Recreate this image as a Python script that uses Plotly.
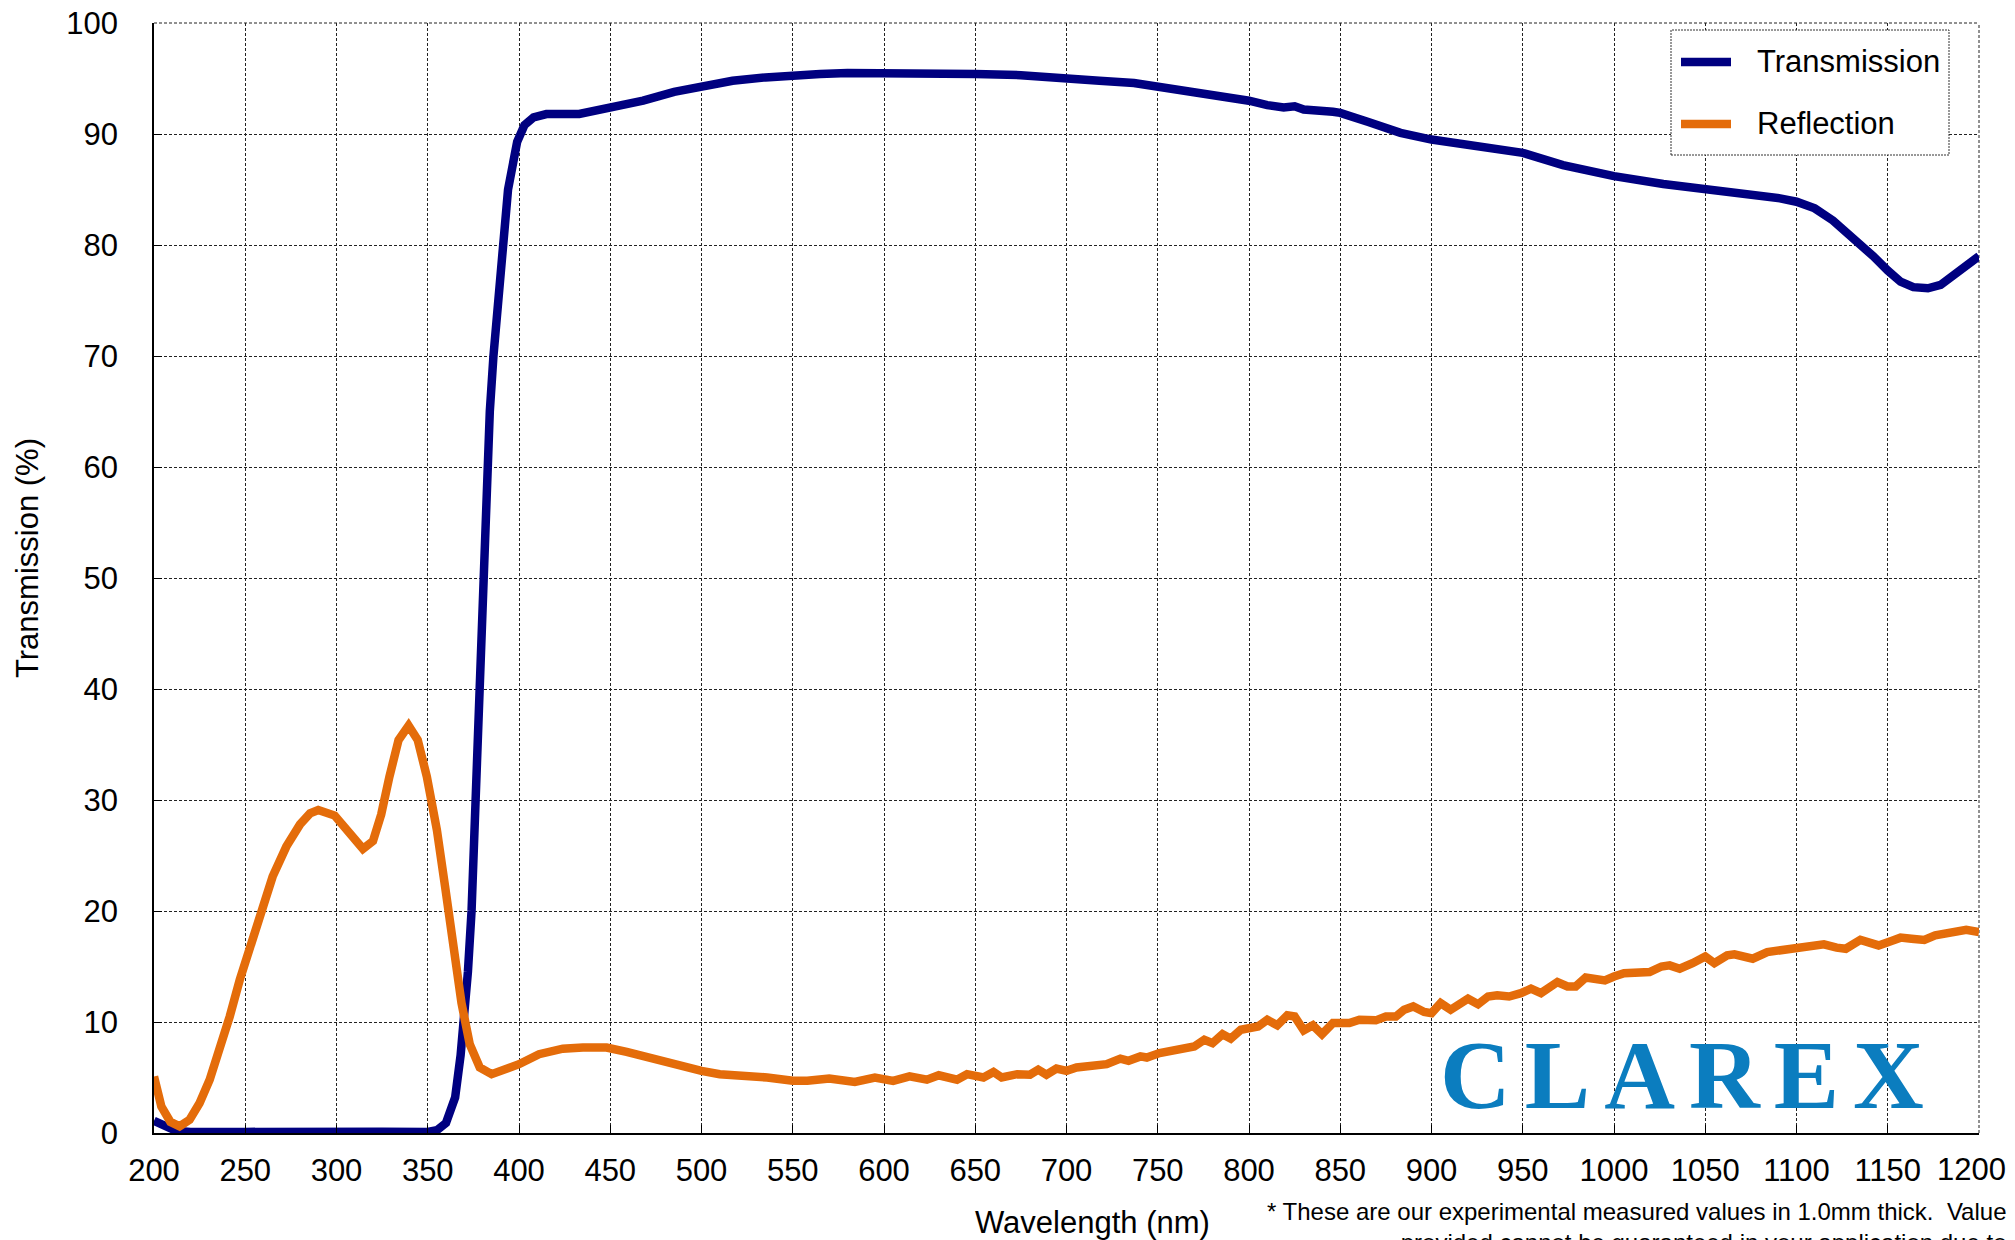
import plotly.graph_objects as go

# ---------------- data ----------------
wl_trans = [200, 205, 210, 215, 220, 250, 275, 300, 325, 350, 355, 360, 365, 368, 370, 372, 374,
            376, 378, 380, 382, 384, 386, 389, 394, 399, 403, 408, 415, 433, 450, 468, 485, 500,
            517, 535, 550, 565, 580, 600, 620, 650, 675, 700, 718, 737, 750, 770, 785, 800, 810,
            819, 825, 830, 846, 850, 865, 874, 883, 900, 916, 929, 950, 972, 1000, 1027, 1050,
            1073, 1091, 1100, 1110, 1120, 1131, 1142, 1150, 1157, 1164, 1172, 1179, 1186, 1194, 1200]
transmission = [1.1, 0.7, 0.35, 0.15, 0.1, 0.1, 0.15, 0.12, 0.12, 0.1, 0.25, 0.9, 3.2, 7.0, 10.5,
                14.5, 20.0, 29.0, 40.0, 50.0, 59.0, 65.0, 70.0, 76.0, 85.0, 89.3, 90.8, 91.5, 91.8,
                91.8, 92.3, 93.0, 93.8, 94.3, 94.8, 95.1, 95.3, 95.4, 95.5, 95.5, 95.5, 95.4, 95.3,
                95.1, 94.8, 94.6, 94.3, 93.8, 93.4, 93.0, 92.6, 92.4, 92.5, 92.2, 92.0, 91.9, 91.1,
                90.6, 90.1, 89.5, 89.1, 88.9, 88.3, 87.2, 86.2, 85.5, 85.1, 84.7, 84.2, 83.9, 83.3,
                82.2, 80.7, 79.0, 77.7, 76.7, 76.2, 76.1, 76.4, 77.3, 78.4, 79.0]

wl_refl = [200, 204, 209, 214, 219.5, 225, 230.5, 236, 241.5, 247, 252.5, 258, 265, 272.5, 280,
           285.5, 290, 299, 305.5, 310, 314.5, 320, 324.5, 329, 334, 339.5, 344.5, 349.5, 355,
           359.5, 364, 368.5, 373, 378.5, 385, 400, 411, 424, 435, 448, 459, 466, 472, 479, 490,
           500, 510, 521, 536, 550, 558, 570, 576, 584, 595, 605, 614, 623.5, 630, 640, 645.5,
           654.5, 660, 664.5, 673, 680, 684.5, 689, 694.5, 700, 705.5, 716.5, 722, 729.5, 734,
           740.5, 744, 751, 757, 764.5, 770, 775.5, 780, 785.5, 790, 795.5, 801, 805, 810, 815.5,
           821, 825, 830, 835, 840, 846, 855, 860.5, 869.5, 875, 880.5, 885, 890, 896, 900, 905,
           910.5, 920, 925.5, 931, 936, 942.5, 949, 954.5, 960, 969, 974.5, 979, 984.5, 990, 995,
           1000, 1005.5, 1019.5, 1026, 1030.5, 1036, 1043, 1050, 1055, 1062, 1066, 1076, 1084,
           1090, 1100, 1110, 1115, 1122, 1127, 1135, 1140, 1145, 1152, 1157, 1163, 1170, 1176,
           1185, 1193, 1200]
reflection = [5.1, 2.4, 1.0, 0.6, 1.2, 2.7, 4.8, 7.5, 10.5, 13.8, 16.8, 19.8, 23.1, 25.8, 27.8,
              28.8, 29.1, 28.6, 27.3, 26.2, 25.6, 26.3, 28.7, 32.1, 35.4, 36.7, 35.4, 32.1, 27.3,
              22.2, 16.5, 11.7, 8.0, 5.9, 5.3, 6.2, 7.1, 7.6, 7.7, 7.7, 7.3, 7.0, 6.8, 6.5, 5.9,
              5.6, 5.3, 5.2, 5.0, 4.7, 4.7, 4.9, 4.8, 4.6, 5.0, 4.7, 5.1, 4.8, 5.2, 4.8, 5.3,
              5.0, 5.5, 5.0, 5.3, 5.25, 5.7, 5.25, 5.8, 5.6, 5.9, 6.1, 6.2, 6.7, 6.5,
              6.9, 6.8, 7.2, 7.4, 7.75, 7.8, 8.4, 8.1, 8.9, 8.5, 9.3, 9.4, 9.6, 10.2, 9.7,
              10.6, 10.5, 9.25, 9.7, 8.9, 9.9, 9.9, 10.2, 10.15, 10.5, 10.5, 11.1, 11.4, 10.9, 10.8, 11.7,
              11.1, 12.1, 11.6, 12.3, 12.4, 12.3, 12.6, 13.0, 12.6, 13.6, 13.2, 13.2, 14.0, 13.8, 13.75,
              14.1, 14.4, 14.5, 15.0, 15.1, 14.8, 15.3, 15.9, 15.3, 16.0, 16.1, 15.7, 16.3,
              16.4, 16.6, 16.8, 17.0, 16.7, 16.6, 17.4, 17.1, 16.9, 17.3, 17.6, 17.5, 17.4, 17.8,
              18.0, 18.3, 18.1]

x_ticks = list(range(200, 1201, 50))
y_ticks = list(range(0, 101, 10))
x_ticklabels = [str(v) for v in x_ticks]
y_ticklabels = [str(v) for v in y_ticks]

series_names = ["Transmission", "Reflection"]
x_title = "Wavelength (nm)"
y_title = "Transmission (%)"
footnote = ("* These are our experimental measured values in 1.0mm thick.  Value<br>"
            "provided cannot be guaranteed in your application due to")
logo_text = "CLAREX"

# ---------------- styling / geometry ----------------
NAVY = "#000080"
ORANGE = "#E46C0A"
LOGO_BLUE = "#0B7DBF"
FONT = "Liberation Sans, Arial, sans-serif"

OFF = 8                       # default page margin of the html body
W, H = 2015 - OFF, 1240 - OFF
ML, MR, MT, MB = 154 - OFF, 36, 23 - OFF, 107
PW, PH = W - ML - MR, H - MT - MB


def px(x):
    """screen pixel x -> paper coordinate"""
    return (x - OFF - ML) / PW


def py(y):
    """screen pixel y -> paper coordinate"""
    return (MT + PH - (y - OFF)) / PH


# the last x label sits slightly left of its tick in the reference: drawn as an annotation
x_ticktext = x_ticklabels[:-1] + [""]

fig = go.Figure()
fig.add_trace(go.Scatter(x=wl_trans, y=transmission, mode="lines", name=series_names[0],
                         line=dict(color=NAVY, width=8.5), showlegend=False))
fig.add_trace(go.Scatter(x=wl_refl, y=reflection, mode="lines", name=series_names[1],
                         line=dict(color=ORANGE, width=8.5), showlegend=False))

axis_common = dict(showgrid=True, gridcolor="#222222", gridwidth=1, griddash="3px,2px",
                   zeroline=False, showline=True, linecolor="#000000",
                   ticks="inside", ticklen=8, tickcolor="#000000", tickwidth=1,
                   ticklabeloverflow="allow",
                   tickfont=dict(family=FONT, size=31, color="#000000"), automargin=False)

fig.update_xaxes(range=[200, 1200], tickvals=x_ticks, ticktext=x_ticktext,
                 linewidth=2, ticklabelstandoff=9, **axis_common)
fig.update_yaxes(range=[0, 100], tickvals=y_ticks, ticktext=y_ticklabels,
                 linewidth=1.5, ticklabelstandoff=28, **axis_common)

shapes = [
    # dotted top and right frame (gridlines at 100 % and 1200 nm)
    dict(type="line", xref="paper", yref="paper", x0=0, x1=1, y0=1, y1=1,
         line=dict(color="#222222", width=1, dash="3px,2px"), layer="below"),
    dict(type="line", xref="paper", yref="paper", x0=1, x1=1, y0=0, y1=1,
         line=dict(color="#222222", width=1, dash="3px,2px"), layer="below"),
    # legend box
    dict(type="rect", xref="paper", yref="paper", x0=px(1671), x1=px(1949), y0=py(155), y1=py(30),
         fillcolor="white", line=dict(color="#333333", width=1, dash="2px,1px"), layer="above"),
    dict(type="line", xref="paper", yref="paper", x0=px(1681), x1=px(1731), y0=py(62), y1=py(62),
         line=dict(color=NAVY, width=8.5), layer="above"),
    dict(type="line", xref="paper", yref="paper", x0=px(1681), x1=px(1731), y0=py(124), y1=py(124),
         line=dict(color=ORANGE, width=8.5), layer="above"),
]

annotations = [
    dict(text=x_ticklabels[-1], xref="paper", yref="paper", x=px(1971), y=py(1169),
         xanchor="center", yanchor="middle", showarrow=False,
         font=dict(family=FONT, size=31, color="#000000")),
    dict(text=series_names[0], xref="paper", yref="paper", x=px(1755), y=py(62),
         xanchor="left", yanchor="middle", showarrow=False,
         font=dict(family=FONT, size=31, color="#000000")),
    dict(text=series_names[1], xref="paper", yref="paper", x=px(1755), y=py(124),
         xanchor="left", yanchor="middle", showarrow=False,
         font=dict(family=FONT, size=31, color="#000000")),
    dict(text=y_title, xref="paper", yref="paper", x=px(27), y=py(558), textangle=-90,
         xanchor="center", yanchor="middle", showarrow=False,
         font=dict(family=FONT, size=31, color="#000000")),
    dict(text=x_title, xref="paper", yref="paper", x=px(1092), y=py(1222),
         xanchor="center", yanchor="middle", showarrow=False,
         font=dict(family=FONT, size=31, color="#000000")),
    dict(text=footnote, xref="paper", yref="paper", x=px(2008), y=py(1196),
         xanchor="right", yanchor="top", align="right", showarrow=False,
         font=dict(family=FONT, size=24, color="#000000")),
    dict(text='<span style="letter-spacing:14px">' + logo_text + '</span>',
         xref="paper", yref="paper", x=px(1438), y=py(1075),
         xanchor="left", yanchor="middle", showarrow=False,
         font=dict(family="Liberation Serif, Times New Roman, serif", size=98,
                   color=LOGO_BLUE, weight="bold")),
]

fig.update_layout(width=W, height=H, margin=dict(l=ML, r=MR, t=MT, b=MB, autoexpand=False),
                  paper_bgcolor="white", plot_bgcolor="white", showlegend=False,
                  shapes=shapes, annotations=annotations,
                  font=dict(family=FONT, color="#000000"))

fig.write_html("out.html")
